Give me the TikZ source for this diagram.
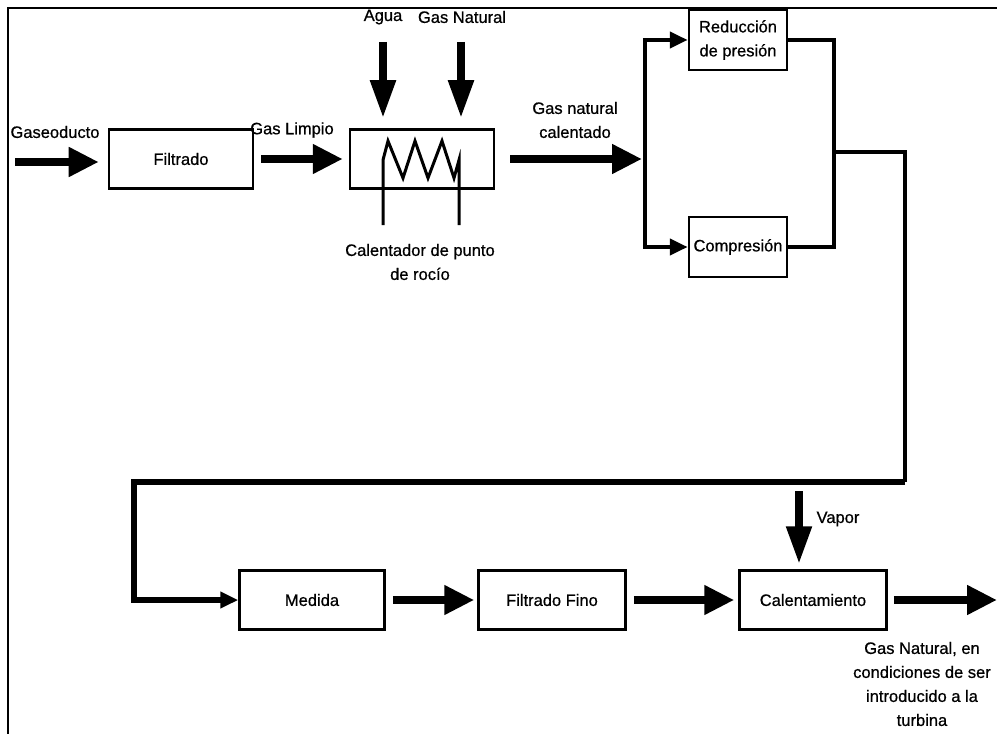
\documentclass[tikz,border=0pt]{standalone}
\usepackage{fontspec}
\setmainfont{Liberation Sans}[BoldFont=Liberation Sans, BoldFeatures={FakeBold=0.7}]
\usetikzlibrary{arrows.meta}
\begin{document}
\begin{tikzpicture}[x=1bp,y=-1bp,
  every node/.style={font=\fontsize{16.5bp}{24bp}\selectfont\bfseries, inner sep=0pt},
  box/.style={draw, line width=2.5bp, rectangle},
  lbl/.style={align=center},
  bigarrow/.style={line width=8bp, -{Triangle[length=30bp,width=28bp]}},
  vertarrow/.style={line width=8bp, -{Triangle[length=38bp,width=24bp]}},
  thinarrow/.style={line width=4.5bp, -{Triangle[length=18bp,width=16bp]}},
  pipe/.style={line width=4.5bp},
  loop/.style={line width=5.5bp}
]
\useasboundingbox (0,0) rectangle (997,734);
% frame
\draw[line width=2.5bp] (8,734) -- (8,8) -- (997,8);

% boxes
\node[box, minimum width=144bp, minimum height=59bp] (filt) at (181,159) {Filtrado};
\node[box, minimum width=144bp, minimum height=59bp] (heat) at (422,159) {};
\node[box, minimum width=98bp, minimum height=60bp, lbl] (red) at (738,40) {Reducción\\de presión};
\node[box, minimum width=98bp, minimum height=60bp] (comp) at (738,247) {Compresión};
\node[box, minimum width=145bp, minimum height=59bp] (med) at (312,600) {Medida};
\node[box, minimum width=147bp, minimum height=59bp] (ff) at (552,600) {Filtrado Fino};
\node[box, minimum width=147bp, minimum height=59bp] (cal) at (813,600) {Calentamiento};

% heater coil
\draw[line width=3bp, line join=miter] (383,225) -- (383,160) -- (388,141) -- (403,178) -- (415,141) -- (428,178) -- (442,141) -- (454,178) -- (459,160) -- (459,225);

% labels
\node (lgas) at (55,132) {Gaseoducto};
\node (llim) at (292,130) {Gas Limpio};
\node (lagua) at (383,17) {Agua};
\node (lgn) at (462,17) {Gas Natural};
\node[lbl] (lcal) at (420,262) {Calentador de punto\\de rocío};
\node[lbl] (lgnc) at (575,120) {Gas natural\\calentado};
\node (lvap) at (838,519) {Vapor};
\node[lbl] (lout) at (922,684) {Gas Natural, en\\condiciones de ser\\introducido a la\\turbina};

% coordinates
\coordinate (in0) at (15,162);
\coordinate (ag0) at (383,42);
\coordinate (gn0) at (461,42);
\coordinate (sp) at (645,159);
\coordinate (spt) at (645,40);
\coordinate (spb) at (645,247);
\coordinate (mr) at (834,40);
\coordinate (mb) at (834,247);
\coordinate (mm) at (834,152);
\coordinate (c1) at (905,152);
\coordinate (c2) at (905,482);
\coordinate (c3) at (134,482);
\coordinate (c4) at (134,600);
\coordinate (vap0) at (799,491);
\coordinate (out) at (997,600);

% main arrows
\draw[bigarrow, shorten >=9bp] (in0) -- (filt.west |- in0);
\draw[bigarrow, shorten <=7bp, shorten >=6bp] (filt.east) -- (heat.west);
\draw[bigarrow, shorten <=15bp] (heat.east) -- ([xshift=-3bp]sp);
\draw[vertarrow, shorten >=10bp] (ag0) -- (ag0 |- heat.north);
\draw[vertarrow, shorten >=10bp] (gn0) -- (gn0 |- heat.north);

% branch
\draw[pipe] (spt) -- (spb);
\draw[thinarrow] ([xshift=-2.25bp]spt) -- (red.west);
\draw[thinarrow] ([xshift=-2.25bp]spb) -- (comp.west);
\draw[pipe, line join=miter] (red.east |- mr) -- (mr) -- (mb) -- (comp.east |- mb);
\draw[pipe, line join=miter] (mm) -- (c1) -- (c2);
\draw[loop, line join=miter] (c2) -- (c3) -- (c4) -- ([xshift=-14bp]med.west);
\draw[thinarrow] ([xshift=-16bp]med.west) -- (med.west);

% bottom row arrows
\draw[bigarrow, shorten <=7bp, shorten >=3bp] (med.east) -- (ff.west);
\draw[bigarrow, shorten <=7bp, shorten >=4bp] (ff.east) -- (cal.west);
\draw[bigarrow, shorten <=6bp] (cal.east) -- (out);
\draw[vertarrow, shorten >=5bp] (vap0) -- (vap0 |- cal.north);
\end{tikzpicture}
\end{document}
